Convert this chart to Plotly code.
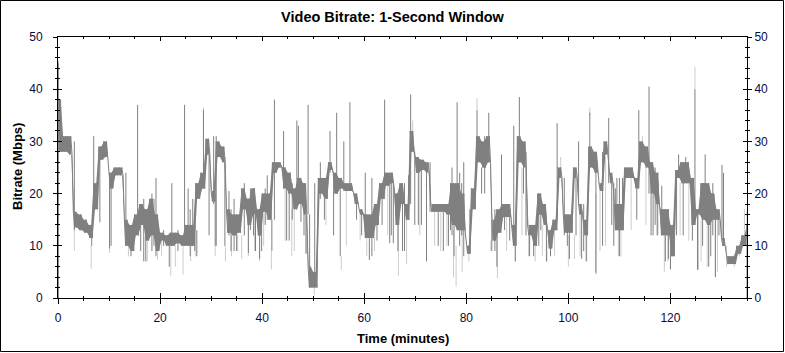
import plotly.graph_objects as go

# ---- data ----
minutes = list(range(136))
band_hi = [38, 31, 31, 16.5, 16, 15, 14, 22, 29, 30,
           24, 25, 25, 15, 14, 16, 18, 17, 19, 16,
           12.5, 12, 12.5, 12.5, 12, 14, 14, 22, 24, 30.5,
           20.5, 30, 29, 17, 16, 16, 21, 19, 21, 17,
           20, 20, 26, 26, 25, 24, 21, 23, 22, 6,
           5, 23, 23, 26, 24, 23, 22, 22, 20, 17,
           16, 16, 18, 22, 24, 24, 20, 22, 18, 32,
           27, 26.5, 26, 18, 18, 18, 18, 22, 22, 20,
           10, 21, 31, 30, 31, 15, 17, 18, 18, 14,
           31, 30, 14, 14, 20, 18, 13, 15, 25, 16,
           16, 25, 18, 15, 29, 28, 22, 30, 24, 18,
           18, 25, 25, 23, 30, 29, 26, 24, 17, 17,
           14, 24.5, 26, 26, 23, 17, 22, 22, 20, 17,
           11.5, 8, 8, 10, 12, 14]
band_lo = [28, 28, 27.5, 13.5, 13, 12.5, 11.5, 17, 26.5, 27,
           21, 23.5, 23.5, 10, 9, 12, 14, 11, 12, 9,
           11, 10, 10, 10.5, 10, 10, 10, 19, 21, 27.5,
           18.5, 27, 26, 12.5, 12, 12.5, 17, 14, 16, 12,
           16.5, 15, 24, 25, 21, 20, 17, 18, 16, 2,
           2, 20, 19, 24.5, 20, 21, 20.5, 20.5, 18, 16,
           11.5, 11.5, 14, 19, 21.5, 22, 14, 18, 15, 28,
           24, 24.5, 24, 16.5, 16.5, 16.5, 16, 14, 13, 13,
           8.5, 17, 26, 25, 26, 11, 12.5, 15.5, 15.5, 10,
           26, 25, 12, 10, 16, 14, 9.5, 13, 23, 12.5,
           12.5, 23, 16, 12, 25, 24, 20.5, 27.5, 22, 13,
           13, 23, 23, 21, 26, 25, 20, 18, 12, 12,
           8, 23, 22, 22, 14, 16, 15, 14, 15, 15,
           10, 6.5, 6.5, 8.5, 10, 11]

# dark spikes: time, low, high
dark_t = [0.05, 0.4, 3.2, 6.6, 7.0, 8.2, 10.1, 10.4, 13.3, 14.3, 15.6, 17.2, 19.2, 21.8,
          22.3, 24.8, 25.5, 26.4, 27.2, 28.5, 29.6, 30.5, 30.8, 31.0, 32.7, 33.5, 34.5,
          36.5, 37.3, 38.7, 39.5, 41.0, 41.9, 42.4, 44.2, 44.8, 46.8, 47.1, 48.6, 49.0,
          49.3, 50.3, 51.4, 53.3, 54.0, 54.6, 55.3, 56.0, 57.2, 60.2, 61.0, 61.5, 64.0,
          65.0, 65.7, 66.6, 67.5, 68.7, 69.1, 69.9, 71.2, 72.2, 72.9, 74.5, 75.5, 76.5,
          77.6, 78.2, 79.5, 82.1, 83.0, 84.4, 85.0, 86.0, 86.9, 88.5, 89.3, 89.6, 90.4,
          91.2, 92.4, 94.2, 95.7, 97.8, 99.2, 100.2, 101.5, 102.0, 102.6, 103.5, 104.2,
          105.4, 106.7, 107.9, 108.5, 109.5, 110.0, 110.6, 113.4, 113.8, 115.8, 116.6,
          117.5, 118.3, 119.0, 120.0, 121.2, 121.6, 123.0, 124.3, 124.8, 125.3, 126.8,
          127.5, 128.8, 130.1, 130.4, 135.0,
          14.8, 16.2, 16.8, 18.4, 18.8, 20.7, 23.5, 25.9, 26.8, 33.9, 35.0, 37.7, 38.3,
          39.9, 40.6, 45.3, 45.9, 47.6, 48.2, 52.2, 58.5, 59.5, 62.5, 63.5, 65.3, 67.9,
          70.6, 76.9, 77.2, 78.7, 79.1, 80.7, 83.6, 85.6, 87.5, 91.7, 93.2, 94.6, 96.5,
          99.8, 103.0, 108.9, 109.2, 116.2, 117.0, 119.6, 122.5, 126.3, 127.9, 128.3, 129.5]
dark_lo = [0, 30, 13, 10, 17, 14.5, 9.5, 10, 14, 8, 14, 7, 8, 6,
           10, 10, 10, 10, 8, 21, 12, 18, 10, 10, 10, 12, 9,
           12, 8.6, 9, 7.5, 15, 9, 15, 21, 11, 17, 18, 8.5, 16,
           2, 2, 19, 24, 12, 20, 8, 20.5, 20.5, 11.5, 7.3, 8, 19,
           10.5, 10.5, 9, 9, 15, 18, 14, 14, 7, 16.5, 10, 9, 10,
           8, 13, 8, 26, 20, 26, 9, 6, 15.5, 11, 10, 7, 26,
           20, 8, 10, 7, 15, 12, 7.5, 12, 18, 7.5, 7, 25,
           4.8, 10, 22, 14, 13, 8, 13, 15, 21, 20, 12,
           12, 12, 7, 5.5, 12, 23, 22, 11, 14, 5.4, 15,
           6, 4, 11.5, 10, 0,
           12, 9, 7, 9, 10, 10, 9, 8, 9, 9, 9, 13, 12,
           9, 14, 11, 15, 14.6, 12, 15, 15, 12, 11, 14, 12, 9,
           14, 13, 12, 10, 12, 8.5, 20, 9, 13, 12, 8, 13, 8,
           10, 9, 10, 13, 12, 14, 7.5, 12, 10, 8, 12, 12]
dark_hi = [45, 38, 30, 12, 31, 27, 24, 22, 24, 10, 37, 14, 23, 10,
           22, 37, 21, 19, 13, 36, 28, 31, 20, 31, 27, 20.5, 19,
           22, 19, 16, 17, 23.5, 15, 38, 32, 21, 34, 33, 16, 37,
           16, 22, 26, 32, 24, 35.5, 21, 30, 37.5, 24, 11.5, 23, 38,
           22, 22, 14, 18, 23.5, 39, 28, 24.5, 24, 26, 16.5, 16.5, 16,
           14, 37.5, 26, 36, 25, 35.5, 15, 12.5, 27.5, 15.5, 33, 10, 38.5,
           25, 12, 20, 14, 33.5, 23, 12.5, 23, 30, 16, 12, 35.5,
           24, 28, 34.5, 22, 23, 23, 23, 21, 36, 40.5, 20,
           24, 21.5, 12, 12, 23, 27.5, 27, 23, 40, 16, 27.5,
           14, 15, 25.5, 24, 14,
           15, 18, 19, 20, 19, 13, 13, 17, 14, 17, 16, 21, 21,
           18, 21, 24, 22, 23, 22, 23, 20, 17, 18, 22, 24, 22,
           27, 22, 25, 24, 22, 17, 31, 17, 18, 28, 14, 20, 13,
           16, 18, 22, 21, 26, 25, 17, 26, 22, 20, 22, 17]

# light spikes: time, low, high
light_t = [0.1, 3.2, 6.5, 10.1, 13.8, 17.5, 19.5, 22.1, 24.5, 27.0, 28.5, 30.8, 32.8,
           35.2, 36.0, 37.3, 38.5, 39.5, 41.8, 44.5, 45.8, 48.6, 50.2, 55.5, 60.5, 66.7,
           68.3, 69.5, 77.5, 78.0, 79.2, 82.1, 86.1, 89.6, 92.2, 93.5, 95.8, 98.5, 100.0,
           101.2, 103.6, 104.2, 105.4, 107.3, 109.8, 114.5, 117.3, 118.8, 119.5, 120.0,
           124.8, 125.5, 127.2, 128.8, 133.5, 134.5, 135.0,
           15.0, 20.3, 23.0, 26.0, 34.0, 40.3, 46.3, 52.5, 56.5, 59.2, 62.0, 64.6, 70.9,
           73.8, 75.0, 76.2, 80.5, 84.8, 87.9, 90.9, 94.9, 97.3, 102.3, 106.2, 110.3,
           112.3, 115.2, 121.9, 123.6, 126.0, 129.2, 131.0, 132.5]
light_lo = [0, 9, 5.6, 8.6, 8, 7, 7.3, 4.3, 4.5, 8, 30, 8, 7,
            9, 7.5, 8, 9, 7, 5.5, 11, 8, 8.5, 0.5, 5.4, 8, 4.3,
            6.5, 31, 4, 2.2, 5, 36, 3.8, 7, 8, 7, 7, 24, 6,
            7.5, 7, 35, 4.5, 10, 8, 26, 12, 5, 7, 5.4,
            40, 5.4, 6, 4, 8, 10, 11,
            9, 8, 6, 7, 8, 10, 9, 14, 10, 11, 9, 12, 12,
            10, 9, 10, 7, 9, 9, 12, 8, 8, 8, 9, 8,
            13, 14, 12, 11, 7, 5, 6, 6]
light_hi = [45.5, 16, 10, 20, 12, 14, 12, 10, 10, 12, 36.5, 10, 10,
            12, 12, 14, 16, 12, 9, 21, 17, 16, 3, 8, 11.5, 14,
            15, 34, 13, 10, 13, 38.3, 12, 10, 12, 10, 11, 27, 12,
            12, 12, 36.5, 20, 27, 13, 31, 20, 12, 12, 8,
            44.3, 16, 14, 15, 10, 17, 17,
            12, 11, 10, 10, 12, 16, 17, 19, 20.5, 16, 14, 21.5, 24,
            16.5, 16.5, 16, 8.5, 11, 15.5, 25, 14, 13, 16, 20.5, 13,
            23, 25, 22, 22, 15, 15, 10, 8.5]

x_ticks = [0, 20, 40, 60, 80, 100, 120]
y_ticks = [0, 10, 20, 30, 40, 50]

DARK = "#808080"
LIGHT = "#cccccc"
TICKC = "#0a0a3a"
FONT = "Liberation Sans, Arial, sans-serif"


def segs(ts, los, his):
    xs, ys = [], []
    for t, lo, hi in zip(ts, los, his):
        xs += [t, t, None]
        ys += [lo, hi, None]
    return xs, ys


# the 1-second series swings between the band's read high and low values
zx, zy = [], []
ux, uy, bx, by = [], [], [], []
for m, hi, lo in zip(minutes, band_hi, band_lo):
    if m == minutes[-1]:
        zx.append(m)
        zy.append(hi)
        ux.append(m)
        uy.append(hi)
        break
    for k, v in enumerate([hi, lo, hi, lo]):
        zx.append(m + 0.25 * k)
        zy.append(v)
    ux += [m, m + 0.5]
    uy += [hi, hi]
    bx += [m + 0.25, m + 0.75]
    by += [lo, lo]
poly_x = ux + bx[::-1]
poly_y = uy + by[::-1]

fig = go.Figure()
lx, ly = segs(light_t, light_lo, light_hi)
fig.add_trace(go.Scatter(x=lx, y=ly, mode="lines", line=dict(color=LIGHT, width=1),
                         hoverinfo="skip", showlegend=False))
fig.add_trace(go.Scatter(x=poly_x, y=poly_y, mode="lines", fill="toself", fillcolor=DARK,
                         line=dict(width=0, color=DARK), hoverinfo="skip", showlegend=False))
fig.add_trace(go.Scatter(x=zx, y=zy, mode="lines", line=dict(color=DARK, width=1),
                         showlegend=False))
dx, dy = segs(dark_t, dark_lo, dark_hi)
fig.add_trace(go.Scatter(x=dx, y=dy, mode="lines", line=dict(color=DARK, width=1),
                         hoverinfo="skip", showlegend=False))
# dummy traces to make the extra tick axes render
fig.add_trace(go.Scatter(x=[None], y=[None], xaxis="x2", yaxis="y2", showlegend=False))
fig.add_trace(go.Scatter(x=[None], y=[None], xaxis="x3", yaxis="y3", showlegend=False))
fig.add_trace(go.Scatter(x=[None], y=[None], xaxis="x2", yaxis="y4", showlegend=False))

tickfont = dict(family=FONT, size=12, color=TICKC)
xr = [0, 135]
yr = [0, 50]
common = dict(showgrid=False, zeroline=False, linecolor="black", linewidth=1, tickcolor="black",
              tickwidth=1)

fig.update_layout(
    width=785, height=353,
    margin=dict(l=58, r=38, t=37, b=55),
    paper_bgcolor="white", plot_bgcolor="white",
    title=dict(text="<b>Video Bitrate: 1-Second Window</b>", x=0.5, xref="container",
               y=1 - 17 / 353, yref="container", xanchor="center", yanchor="middle",
               font=dict(family=FONT, size=14.5, color="black")),
    xaxis=dict(range=xr, tickvals=x_ticks, ticks="outside", ticklen=5, showline=True,
               tickfont=tickfont, ticklabelstandoff=4,
               minor=dict(dtick=5, ticks="outside", ticklen=2, tickcolor="black"), **common),
    xaxis2=dict(range=xr, overlaying="x", side="bottom", anchor="y", tickvals=x_ticks,
                ticks="inside", ticklen=5, showline=False, showticklabels=False,
                minor=dict(dtick=5, ticks="inside", ticklen=2, tickcolor="black"), **common),
    xaxis3=dict(range=xr, overlaying="x", side="top", anchor="y", tickvals=x_ticks,
                ticks="inside", ticklen=4, showline=True, showticklabels=False,
                minor=dict(dtick=5, ticks="inside", ticklen=2, tickcolor="black"), **common),
    yaxis=dict(range=yr, tickvals=y_ticks, ticks="outside", ticklen=4, showline=True,
               tickfont=tickfont, ticklabelstandoff=8,
               minor=dict(dtick=2, ticks="outside", ticklen=2, tickcolor="black"), **common),
    yaxis2=dict(range=yr, overlaying="y", side="left", anchor="x", tickvals=y_ticks,
                ticks="inside", ticklen=4, showline=False, showticklabels=False,
                minor=dict(dtick=2, ticks="inside", ticklen=2, tickcolor="black"), **common),
    yaxis3=dict(range=yr, overlaying="y", side="right", anchor="x", tickvals=y_ticks,
                ticks="outside", ticklen=4, showline=True, tickfont=tickfont, ticklabelstandoff=0,
                minor=dict(dtick=2, ticks="outside", ticklen=2, tickcolor="black"), **common),
    yaxis4=dict(range=yr, overlaying="y", side="right", anchor="x", tickvals=y_ticks,
                ticks="inside", ticklen=4, showline=False, showticklabels=False,
                minor=dict(dtick=2, ticks="inside", ticklen=2, tickcolor="black"), **common),
    annotations=[
        dict(text="<b>Time (minutes)</b>", xref="paper", yref="paper", x=0.5, y=(298 - 338) / 261,
             xanchor="center", yanchor="middle", showarrow=False,
             font=dict(family=FONT, size=13, color="black")),
        dict(text="<b>Bitrate (Mbps)</b>", xref="paper", yref="paper", x=(17 - 58) / 689,
             y=(298 - 167) / 261, xanchor="center", yanchor="middle", textangle=-90,
             showarrow=False, font=dict(family=FONT, size=13, color="black")),
    ],
    shapes=[
        dict(type="rect", xref="paper", yref="paper",
             x0=(0.5 - 58) / 689, x1=(783.5 - 58) / 689,
             y0=(298 - 351.5) / 261, y1=(298 - 0.5) / 261,
             line=dict(color="black", width=1), fillcolor="rgba(0,0,0,0)", layer="above"),
    ],
    showlegend=False,
)

fig.write_html("out.html")
